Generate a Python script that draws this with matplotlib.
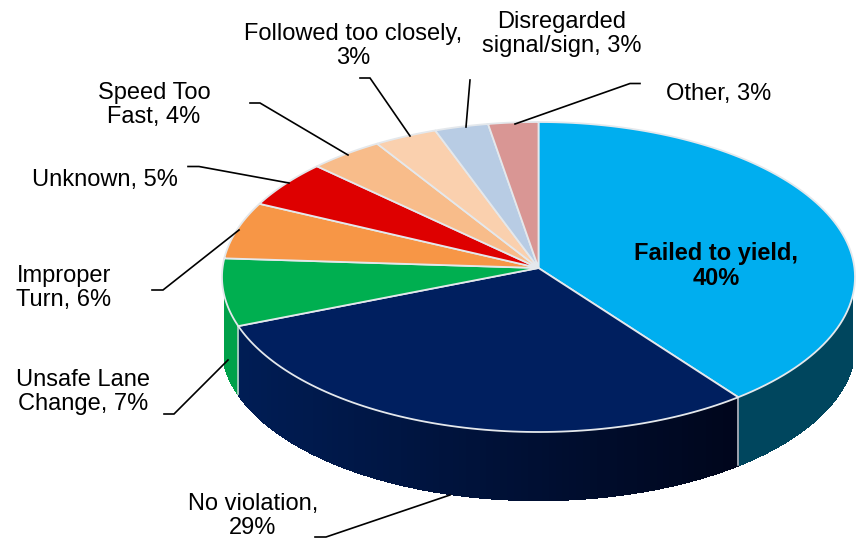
import numpy as np
import matplotlib
matplotlib.use("Agg")
import matplotlib.pyplot as plt
from matplotlib.colors import to_rgb

plt.rcParams['font.family'] = ['Liberation Sans', 'DejaVu Sans']

categories = ["Failed to yield", "No violation", "Unsafe Lane Change", "Improper Turn", "Unknown",
              "Speed Too Fast", "Followed too closely", "Disregarded signal/sign", "Other"]
values = [39.7, 29.3, 7, 6, 5, 4, 3.4, 2.9, 2.7]
colors = ["#00AEEF", "#001F5F", "#00AF50", "#F79646", "#DE0000", "#F8BC8A", "#FAD0AE", "#B8CCE4", "#D99694"]
label_text = ["Failed to yield,\n40%", "No violation,\n29%", "Unsafe Lane\nChange, 7%", "Improper\nTurn, 6%",
              "Unknown, 5%", "Speed Too\nFast, 4%", "Followed too closely,\n3%", "Disregarded\nsignal/sign, 3%", "Other, 3%"]
label_pos = [(716, 266), (253, 516), (83, 392), (64, 288), (105, 180), (154, 105), (353, 46), (562, 34), (719, 94)]
leaders = [None,
           [(315, 537), (326, 537), (450, 495)],
           [(164, 414), (174, 414), (228, 360)],
           [(152, 290), (163, 290), (239, 230)],
           [(188, 166.5), (199, 166.5), (289, 183)],
           [(250, 103), (260, 103), (348, 155)],
           [(360, 78), (370, 78), (410, 136)],
           [(470, 80), (466, 127)],
           [(640, 83.5), (630, 83.5), (515, 124)]]

W, H = 859, 542
CX, CY, RX, RY = 538.5, 277, 316.5, 155
DEPTH = 68

fig = plt.figure(figsize=(W / 100, H / 100), dpi=100)
pie_ax = fig.add_axes([(CX - RX) / W, 1 - (CY + RY) / H, 2 * RX / W, 2 * RY / H])
wedges, _ = pie_ax.pie(values, colors=colors, startangle=90, counterclock=False, radius=1, center=(0, 0),
                       wedgeprops=dict(linewidth=0, zorder=1))
pie_ax.set_aspect('auto')
pie_ax.set_xlim(-1, 1)
pie_ax.set_ylim(-1, 1)
pie_ax.axis('off')
# perspective: the pie's hub sits above the centre of the rim ellipse
pivot = -(268 - CY) / RY
depth = DEPTH / RY
k = np.sqrt((1 - pivot) / (1 + pivot))


def rim_angle(pct):
    """Rim angle (deg, math convention) of a cumulative share after perspective."""
    half = np.radians(np.asarray(pct) * 3.6 / 2)
    return 90 - np.degrees(2 * np.arctan2(k * np.sin(half), np.cos(half)))


navy_l, navy_r = np.array(to_rgb("#001D55")), np.array(to_rgb("#00061C"))
cum = np.cumsum([0] + values)
for i, (p0, p1) in enumerate(zip(cum[:-1], cum[1:])):
    t = np.radians(rim_angle(np.linspace(p0, p1, 90)))
    x, y = np.cos(t), np.sin(t)
    vis = y < -0.13
    base = np.array(to_rgb(colors[i]))
    for j in range(len(t) - 1):
        if vis[j] and vis[j + 1]:
            if i == 0:
                c = to_rgb("#00465E")
            elif i == 1:
                f = np.clip((x[j] + 0.95) / 1.58, 0, 1)
                c = navy_l * (1 - f) + navy_r * f
            else:
                c = base * 0.92
            pie_ax.fill([x[j], x[j + 1], x[j + 1], x[j]],
                        [y[j], y[j + 1], y[j + 1] - depth, y[j] - depth],
                        facecolor=c, edgecolor=c, lw=1.0, zorder=2, clip_on=False, antialiased=False)
    pie_ax.fill(np.r_[0, x, 0], np.r_[pivot, y, pivot], facecolor=colors[i], edgecolor="#E4E8EC",
                lw=1.3, zorder=5, clip_on=False)

# edge seams on the wall
for p in cum[1:3]:
    ta = np.radians(rim_angle(p))
    pie_ax.plot([np.cos(ta)] * 2, [np.sin(ta), np.sin(ta) - depth], color="#C8D0D8", lw=1.1, zorder=3, clip_on=False)

ov = fig.add_axes([0, 0, 1, 1], facecolor='none')
ov.set_xlim(0, W)
ov.set_ylim(H, 0)
ov.axis('off')
for i, s in enumerate(label_text):
    ov.text(*label_pos[i], s, ha='center', va='center', fontsize=17, color='black',
            fontweight='bold' if i == 0 else 'normal', linespacing=1.14)
    if leaders[i]:
        xs, ys = zip(*leaders[i])
        ov.plot(xs, ys, color='black', lw=1.2, solid_joinstyle='miter')

fig.savefig("out.png", dpi=100)
